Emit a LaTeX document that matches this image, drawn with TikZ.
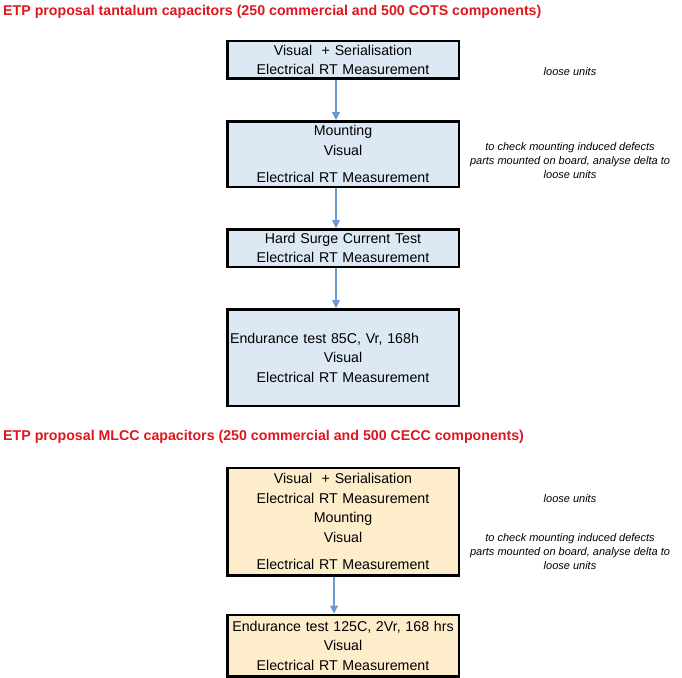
\documentclass[tikz,border=0pt]{standalone}
\usepackage{fontspec}
\setmainfont{Liberation Sans}
\usetikzlibrary{shapes,arrows.meta,positioning}
\definecolor{stageblue}{RGB}{220,232,244}
\definecolor{stageyellow}{RGB}{253,237,203}
\definecolor{flowblue}{RGB}{108,154,206}
\definecolor{titlered}{RGB}{222,22,30}
\tikzstyle{stage} = [rectangle, draw, line width=2.5bp, text width=228bp,
    align=center, inner sep=0pt, minimum width=231.5bp,
    font=\fontsize{14.2bp}{19.5bp}\selectfont]
\tikzstyle{title} = [anchor=west, inner sep=0pt, text=titlered,
    font=\fontsize{14.2bp}{16bp}\selectfont\bfseries]
\tikzstyle{note} = [align=center, inner sep=0pt,
    font=\fontsize{11bp}{14bp}\selectfont\itshape]
\tikzstyle{line} = [draw, flowblue, line width=1.2bp,
    -{Triangle[length=8bp,width=8bp]}]

\begin{document}
\begin{tikzpicture}[x=1bp, y=-1bp, node distance=40bp]
    \useasboundingbox (0,0) rectangle (682,678);
    % Tantalum flow
    \node [title] (tanta) at (3,12) {ETP proposal tantalum capacitors (250 commercial and 500 COTS components)};
    \node [stage, fill=stageblue, minimum height=37.5bp] (serial1) at (343,60)
        {Visual~ + Serialisation\\Electrical RT Measurement};
    \node [stage, fill=stageblue, minimum height=65.5bp, below=of serial1] (mount1)
        {Mounting\\Visual\\[8bp]Electrical RT Measurement};
    \node [stage, fill=stageblue, minimum height=37.5bp, below=of mount1] (surge)
        {Hard Surge Current Test\\Electrical RT Measurement};
    \node [stage, fill=stageblue, minimum height=96.5bp, below=of surge] (endur1)
        {Endurance test 85C, Vr, 168h\rule{37bp}{0pt}\\Visual\\Electrical RT Measurement};
    \node [note] (loose1) at (570,72) {loose units};
    \node [note] (check1) at (570,161) {to check mounting induced defects\\parts mounted on board, analyse delta to\\loose units};

    % MLCC flow
    \node [title] (mlcc) at (3,437) {ETP proposal MLCC capacitors (250 commercial and 500 CECC components)};
    \node [stage, fill=stageyellow, minimum height=107.5bp] (serial2) at (343,521.5)
        {Visual~ + Serialisation\\Electrical RT Measurement\\Mounting\\Visual\\[8bp]Electrical RT Measurement};
    \node [stage, fill=stageyellow, minimum height=61.5bp, below=37bp of serial2] (endur2)
        {Endurance test 125C, 2Vr, 168 hrs\\Visual\\Electrical RT Measurement};
    \node [note] (loose2) at (570,499) {loose units};
    \node [note] (check2) at (570,552) {to check mounting induced defects\\parts mounted on board, analyse delta to\\loose units};

    % Draw edges
    \path [line] ([xshift=-7bp]serial1.south) -- ([xshift=-7bp]mount1.north);
    \path [line] ([xshift=-7bp]mount1.south) -- ([xshift=-7bp]surge.north);
    \path [line] ([xshift=-7bp]surge.south) -- ([xshift=-7bp]endur1.north);
    \path [line] ([xshift=-9bp]serial2.south) -- ([xshift=-9bp]endur2.north);
\end{tikzpicture}
\end{document}
